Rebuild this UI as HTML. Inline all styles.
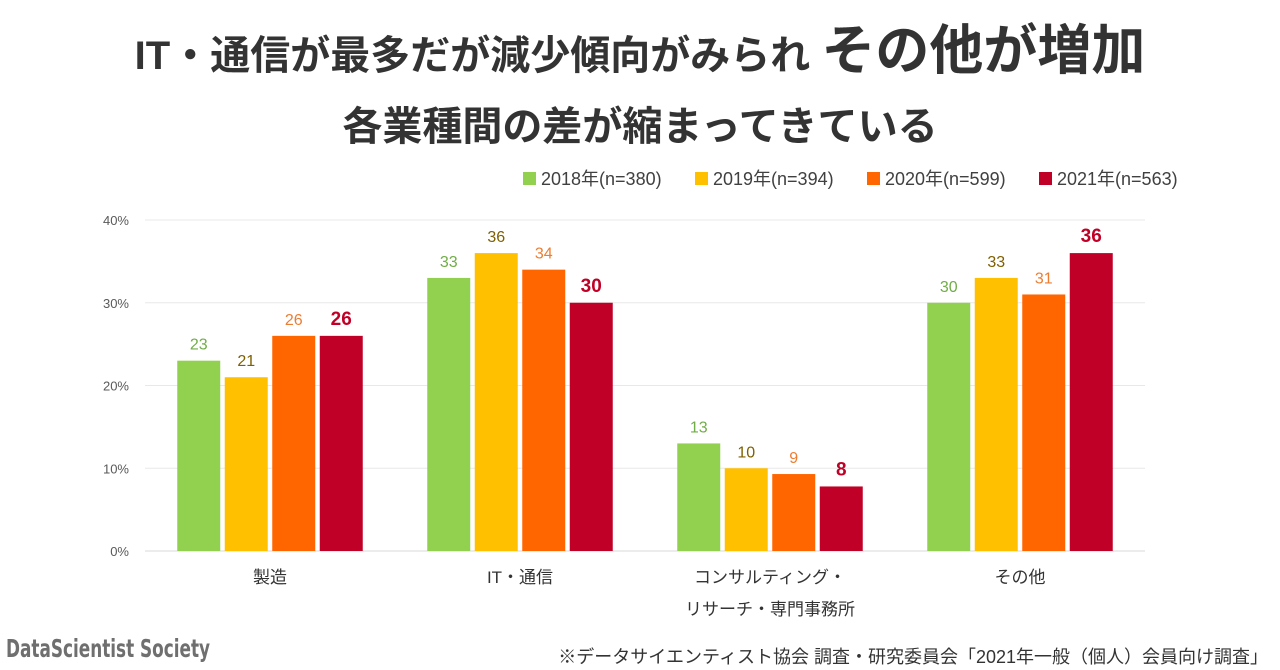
<!DOCTYPE html>
<html><head><meta charset="utf-8">
<style>
body{margin:0;width:1280px;height:670px;background:#fff;overflow:hidden;font-family:"Liberation Sans","Noto Sans CJK JP",sans-serif;}
.abs{position:absolute;white-space:nowrap}
</style></head>
<body>
<div style="position:relative;width:1280px;height:670px">
<div class="abs" style="left:0;width:1280px;text-align:center;top:6px;font-weight:bold;font-size:40px;color:#333">IT・通信が最多だが減少傾向がみられ <span style="font-size:54px">その他が増加</span></div>
<div class="abs" style="left:0;width:1280px;text-align:center;top:94px;font-weight:bold;font-size:40px;color:#333">各業種間の差が縮まってきている</div>
<svg id="chart" width="1280" height="670" style="position:absolute;left:0;top:0"></svg>
<div class="abs" style="left:6px;top:634px;font-family:'DejaVu Sans Condensed','Liberation Sans Narrow','Liberation Sans',sans-serif;font-weight:bold;font-size:25px;color:#6f6f6f;transform:scaleX(0.75);transform-origin:left">DataScientist Society</div>
<div class="abs" style="right:12px;top:643px;font-size:18px;color:#333">※データサイエンティスト協会 調査・研究委員会「2021年一般（個人）会員向け調査」</div>
</div>
<script>
const categories=["製造","IT・通信","コンサルティング・|リサーチ・専門事務所","その他"];
const seriesNames=["2018年(n=380)","2019年(n=394)","2020年(n=599)","2021年(n=563)"];
const v2018=[23,33,13,30];
const v2019=[21,36,10,33];
const v2020=[26,34,9.3,31];
const v2021=[26,30,7.8,36];
const yTicks=[0,10,20,30,40];
const series=[v2018,v2019,v2020,v2021];
const colors=["#92d050","#ffc000","#ff6600","#c00026"];
const labelColors=["#70ad47","#7f6000","#ed7d31","#c00026"];
const svg=document.getElementById('chart');
const NS="http://www.w3.org/2000/svg";
const y0=551,yTop=220,x0=145,x1=1145;
const y=v=>y0-(v/40)*(y0-yTop);
const gw=(x1-x0)/categories.length;
const bw=43,gap=4.5;
function mk(t,a,txt){const e=document.createElementNS(NS,t);for(const k in a)e.setAttribute(k,a[k]);if(txt!==undefined)e.textContent=txt;svg.appendChild(e);return e;}
yTicks.forEach(t=>{
 const l=mk('line',{x1:x0,x2:x1,y1:y(t),y2:y(t),stroke:t===0?'#d9d9d9':'#e8e8e8','stroke-width':1});
 
 
 const tx=mk('text',{x:129,y:y(t)+5,'text-anchor':'end','font-size':13,fill:'#595959'},t+'%');
 
 
});
categories.forEach((c,i)=>{
 const cx=x0+gw*(i+0.5);
 const total=4*bw+3*gap;
 series.forEach((s,j)=>{
  const bx=cx-total/2+j*(bw+gap);
  const r=mk('rect',{x:bx,y:y(s[i]),width:bw,height:y0-y(s[i]),fill:colors[j]});
  
  
  const bold=j===3;
  const t=mk('text',{x:bx+bw/2,y:y(s[i])-11,'text-anchor':'middle','font-size':bold?19:16,'font-weight':bold?'bold':'normal',fill:labelColors[j]},Math.round(s[i]));
  
  
 });
 c.split('|').forEach((line,k)=>{
  const t=mk('text',{x:cx,y:583+k*32,'text-anchor':'middle','font-size':17,fill:'#333'},line);
  
  
 });
});
const legX=[523,695,867,1039];
seriesNames.forEach((n,j)=>{
 const r=mk('rect',{x:legX[j],y:172,width:13,height:13,fill:colors[j]});
 
 
 const t=mk('text',{x:legX[j]+18,y:185,'font-size':18,fill:'#404040'},n);
 
 
});
</script>
</body></html>
